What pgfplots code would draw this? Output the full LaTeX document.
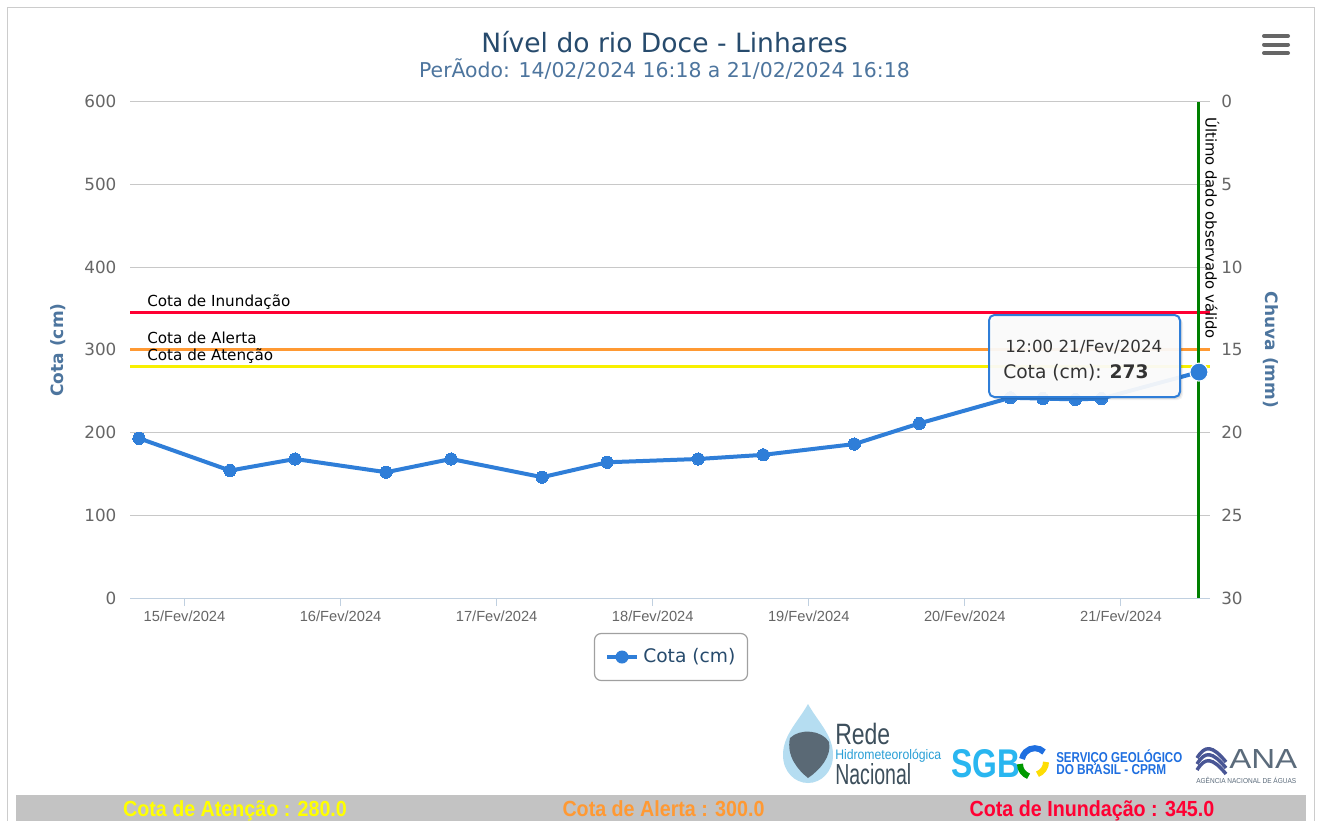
\documentclass[border=0pt]{standalone}
\usepackage{pgfplots}
\pgfplotsset{compat=1.18}
\usepackage{fontspec}
\setmainfont{DejaVu Sans}
\newfontfamily\arial{Liberation Sans}
\newfontfamily\narrow[FakeStretch=0.9]{Liberation Sans}
\newfontfamily\cond[FakeStretch=0.72]{Liberation Sans}
\definecolor{hcblue}{HTML}{2F7ED8}
\definecolor{titlec}{HTML}{274B6D}
\definecolor{subc}{HTML}{4D759E}
\definecolor{tickc}{HTML}{666666}
\definecolor{gridc}{HTML}{C8C8C8}
\definecolor{axc}{HTML}{C0D0E0}
\definecolor{inund}{HTML}{FF0033}
\definecolor{alerta}{HTML}{FF9933}
\definecolor{atenc}{HTML}{FFFF00}
\definecolor{atenl}{HTML}{F8F000}
\definecolor{grn}{HTML}{008000}
\definecolor{framec}{HTML}{CCCCCC}
\definecolor{menuc}{HTML}{666666}
\definecolor{legc}{HTML}{A0A0A0}
\definecolor{footc}{HTML}{C3C3C3}
\definecolor{txt}{HTML}{333333}
\definecolor{rededark}{HTML}{3D4F5C}
\definecolor{redeblue}{HTML}{2A9FD6}
\definecolor{sgbcyan}{HTML}{29B6F0}
\definecolor{sgbblue}{HTML}{1F6FE0}
\definecolor{anagray}{HTML}{5B6B7B}
\begin{document}
\begin{tikzpicture}
\begin{scope}[x=0.75pt,y=-0.75pt]
\path[use as bounding box] (0,0) rectangle (1318,821);
\fill[white] (0,0) rectangle (1318,821);
\draw[framec, line width=0.75pt] (7.5,821) -- (7.5,7.5) -- (1314.5,7.5) -- (1314.5,821);
% titles
\node[anchor=base, inner sep=0pt, font=\fontsize{19.9}{23}\selectfont, text=titlec] at (664.5,52) {Nível do rio Doce - Linhares};
\node[anchor=base, inner sep=0pt, font=\fontsize{15.3}{18}\selectfont, text=subc] at (664.5,77) {PerÃodo: 14/02/2024 16:18 a 21/02/2024 16:18};
% menu
\foreach \yy in {36,44.5,53} \draw[menuc, line width=3pt, line cap=round] (1264,\yy) -- (1288,\yy);
% axis titles
\node[rotate=90, inner sep=0pt, font=\bfseries\fontsize{12.75}{15}\selectfont, text=subc] at (58,350) {Cota (cm)};
\node[rotate=-90, inner sep=0pt, font=\bfseries\fontsize{12.75}{15}\selectfont, text=subc] at (1271,350) {Chuva (mm)};
% legend
\draw[legc, line width=0.9pt, rounded corners=5pt, fill=white] (594.5,633.5) rectangle (747.5,680.5);
\draw[hcblue, line width=3pt] (607,657) -- (637,657);
\fill[hcblue] (622,657) circle (6.5);
\node[anchor=west, inner sep=0pt, font=\fontsize{14}{16}\selectfont, text=titlec] at (643,657) {Cota (cm)};
% logos
\fill[redeblue!35] (808,704) .. controls (798,722) and (783,735) .. (783,755) .. controls (783,772) and (795,783) .. (808,783) .. controls (821,783) and (833,772) .. (833,755) .. controls (833,735) and (818,722) .. (808,704) -- cycle;
\fill[rededark!85] (790,738) .. controls (800,728) and (822,730) .. (829,742) .. controls (832,756) and (820,770) .. (808,778) .. controls (798,770) and (786,756) .. (790,738) -- cycle;
\node[anchor=base west, inner sep=0pt, text=rededark] at (835,744) {\resizebox{41.25pt}{16pt}{\cond Rede}};
\node[anchor=base west, inner sep=0pt, text=redeblue] at (835,759.5) {\resizebox{79.5pt}{7.5pt}{\cond Hidrometeorol\smash{ó}\smash{g}ica}};
\node[anchor=base west, inner sep=0pt, text=rededark] at (835,784) {\resizebox{57pt}{15.75pt}{\cond Nacional}};
\node[anchor=base west, inner sep=0pt, text=sgbcyan] at (951,777) {\resizebox{51.75pt}{21pt}{\arial\bfseries SGB}};
\draw[sgbblue, line width=4.5pt] (1044,752) arc[start angle=-45, end angle=-170, radius=13];
\draw[green!60!black, line width=4.5pt] (1020,764) arc[start angle=180, end angle=110, radius=13];
\draw[yellow!80!orange, line width=4.5pt] (1046,762) arc[start angle=0, end angle=70, radius=13];
\node[anchor=base west, inner sep=0pt, text=sgbblue] at (1056,762) {\resizebox{94.5pt}{7.5pt}{\arial\bfseries SERVI\smash{Ç}O GEOL\smash{Ó}GICO}};
\node[anchor=base west, inner sep=0pt, text=sgbblue] at (1056,774) {\resizebox{82.5pt}{7.5pt}{\arial\bfseries DO BRASIL - CPRM}};
\foreach \dy in {0,6,12} \draw[anagray!80!blue, line width=2.6pt] (1197,758+\dy) .. controls (1205,745+\dy) and (1212,745+\dy) .. (1226,762+\dy);
\node[anchor=base west, inner sep=0pt, text=anagray] at (1229,768) {\resizebox{51pt}{14.25pt}{\arial ANA}};
\node[anchor=base west, inner sep=0pt, text=anagray] at (1196,783) {\resizebox{75pt}{3.75pt}{\arial AG\smash{Ê}NCIA NACIONAL DE \smash{Á}GUAS}};
% footer
\fill[footc] (16,795) rectangle (1306,821);
\node[anchor=base, inner sep=0pt, font=\narrow\bfseries\fontsize{16.4}{19}\selectfont, text=atenc] at (235,816) {Cota de Atenção : 280.0};
\node[anchor=base, inner sep=0pt, font=\narrow\bfseries\fontsize{16.4}{19}\selectfont, text=alerta] at (663.5,816) {Cota de Alerta : 300.0};
\node[anchor=base, inner sep=0pt, font=\narrow\bfseries\fontsize{16.4}{19}\selectfont, text=inund] at (1092,816) {Cota de Inundação : 345.0};
\end{scope}

\begin{axis}[
  at={(97.5pt,-448.5pt)}, anchor=south west,
  scale only axis, width=810pt, height=372.375pt,
  xmin=0.6508, xmax=7.5708, ymin=0, ymax=600,
  axis x line*=bottom, axis y line*=left,
  x axis line style={axc, line width=0.75pt, -},
  y axis line style={draw=none},
  xtick={1,2,3,4,5,6,7},
  xticklabels={15/Fev/2024,16/Fev/2024,17/Fev/2024,18/Fev/2024,19/Fev/2024,20/Fev/2024,21/Fev/2024},
  ytick={0,100,200,300,400,500,600},
  ymajorgrids,
  major grid style={gridc, line width=0.75pt},
  tick align=outside,
  major tick length=6pt,
  x tick style={axc, line width=0.75pt},
  y tick style={draw=none},
  xticklabel style={font=\arial\fontsize{11}{13}\selectfont, text=tickc, inner sep=0pt, anchor=north, yshift=-3.75pt},
  yticklabel style={font=\fontsize{12.6}{15}\selectfont, text=tickc, inner sep=0pt, anchor=east, xshift=-4pt},
  /pgf/number format/assume math mode=true,
  clip=false,
]
\addplot[inund, line width=2.25pt] coordinates {(0.6508,345) (7.5708,345)};
\addplot[alerta, line width=2.25pt] coordinates {(0.6508,300) (7.5708,300)};
\addplot[atenl, line width=2.25pt] coordinates {(0.6508,280) (7.5708,280)};
\draw[grn, line width=2.25pt] (axis cs:7.5,0) -- (axis cs:7.5,600);
\addplot[hcblue, line width=3pt, line join=round, mark=*, mark size=4.6pt, mark options={hcblue, line width=0pt}] coordinates {
(0.7083,193) (1.2917,154) (1.7083,168) (2.2917,152) (2.7083,168) (3.2917,146) (3.7083,164) (4.2917,168) (4.7083,173) (5.2917,186) (5.7083,211) (6.2917,242) (6.5,241) (6.7083,240) (6.875,241) (7.5,273)};
\addplot[only marks, mark=*, mark size=6.75pt, mark options={fill=hcblue, draw=white, line width=0.75pt}] coordinates {(7.5,273)};
\end{axis}

\begin{axis}[
  at={(97.5pt,-448.5pt)}, anchor=south west,
  scale only axis, width=810pt, height=372.375pt,
  xmin=0.6508, xmax=7.5708, ymin=0, ymax=30, y dir=reverse,
  hide x axis, axis y line*=right, y axis line style={draw=none},
  ytick={0,5,10,15,20,25,30}, y tick style={draw=none}, major tick length=0pt,
  yticklabel style={font=\fontsize{12.6}{15}\selectfont, text=tickc, inner sep=0pt, anchor=west, xshift=8.25pt},
  /pgf/number format/assume math mode=true,
]
\addplot[draw=none] coordinates {(1,0)};
\end{axis}

\begin{scope}[x=0.75pt,y=-0.75pt]
\node[rotate=-90, anchor=base west, inner sep=0pt, font=\fontsize{11.1}{13}\selectfont, text=black] at (1205.5,117) {Último dado observado válido};
\node[anchor=base west, inner sep=0pt, font=\fontsize{11.4}{13}\selectfont, text=black] at (147,306.5) {Cota de Inundação};
\node[anchor=base west, inner sep=0pt, font=\fontsize{11.4}{13}\selectfont, text=black] at (147,343) {Cota de Alerta};
\node[anchor=base west, inner sep=0pt, font=\fontsize{11.4}{13}\selectfont, text=black] at (147,360.5) {Cota de Atenção};
% tooltip
\foreach \o/\op in {3/0.05,2/0.07,1/0.09} \fill[black, opacity=\op, rounded corners=4pt] (989+\o,315+\o) rectangle (1180+\o,397+\o);
\draw[hcblue, line width=1.5pt, rounded corners=4pt, fill=white, fill opacity=0.92] (989,315) rectangle (1180,397);
\node[anchor=base west, inner sep=0pt, font=\fontsize{12.5}{14}\selectfont, text=txt] at (1005,352) {12:00 21/Fev/2024};
\node[anchor=base west, inner sep=0pt, font=\fontsize{14}{16}\selectfont, text=txt] at (1003,378) {Cota (cm): \textbf{273}};
\end{scope}
\end{tikzpicture}
\end{document}
